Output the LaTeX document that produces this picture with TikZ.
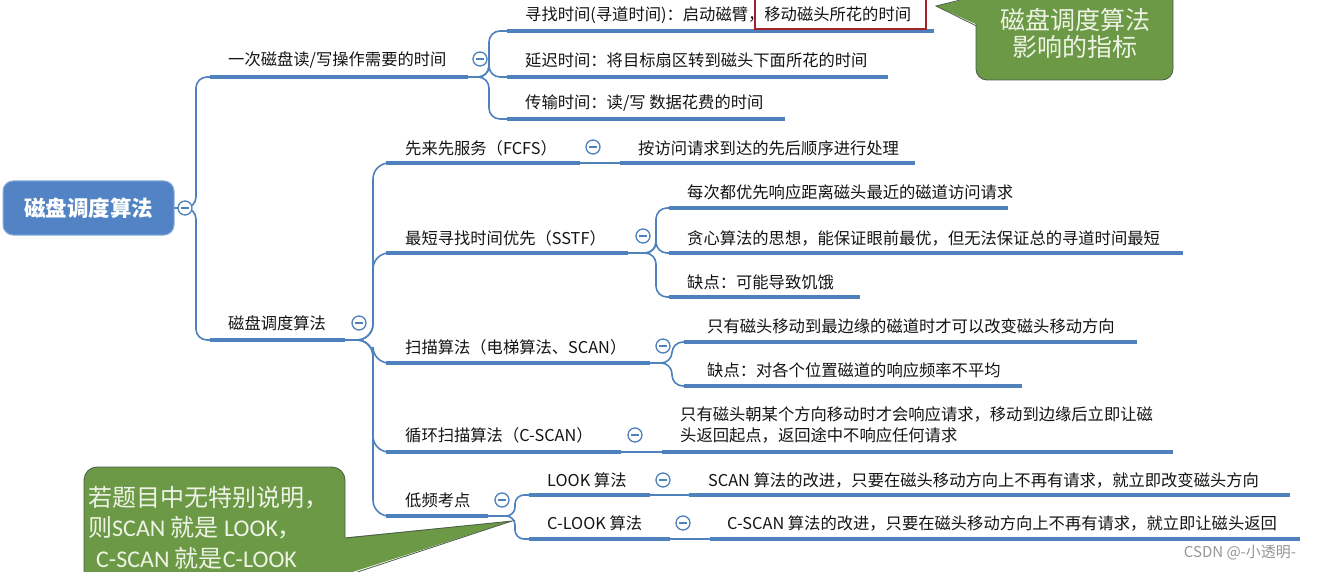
\documentclass[tikz,border=0pt]{standalone}
\usepackage{fontspec}
\setmainfont{Noto Sans CJK SC}
\newfontfamily\calfont{Carlito}
\usetikzlibrary{calc}
\definecolor{mmblue}{RGB}{79,129,189}
\definecolor{rootblue}{RGB}{82,131,196}
\definecolor{rootedge}{RGB}{140,172,215}
\definecolor{gfill}{RGB}{108,153,70}
\definecolor{gline}{RGB}{72,92,70}
\definecolor{redbox}{RGB}{160,35,45}
\definecolor{txtc}{RGB}{20,20,20}
\definecolor{gtext}{RGB}{238,243,230}
\definecolor{wmgray}{RGB}{150,150,150}
\newcommand\tf{\fontsize{16.3}{21}\selectfont}
\begin{document}
\begin{tikzpicture}[x=1pt,y=-1pt,
  uline/.style={line width=3.6pt, draw=mmblue},
  conn/.style={line width=1.6pt, draw=mmblue, rounded corners=11pt},
  coll/.style={circle, draw=mmblue, line width=1.3pt, fill=white, minimum size=14pt, inner sep=0pt,
    path picture={\draw[mmblue,line width=1.3pt] ([xshift=-3.6pt]path picture bounding box.center) -- ([xshift=3.6pt]path picture bounding box.center);}},
  topic/.style={anchor=west, inner sep=0pt, font=\tf, text=txtc},
  rootbox/.style={rounded corners=10pt, fill=rootblue, draw=rootedge, line width=1pt, minimum width=171pt, minimum height=54pt, text=white, font=\fontsize{21.5}{24}\selectfont\bfseries},
  callout/.style={fill=gfill, draw=gline, line width=0.8pt},
  ctext/.style={anchor=west, inner sep=0pt, text=gtext, font=\fontsize{24}{28}\selectfont}
]
\useasboundingbox (0,0) rectangle (1319,572);
\clip (0,0) rectangle (1319,572);
\fill[white] (0,0) rectangle (1319,572);

% ---------- coordinates ----------
\coordinate (Rb) at (196,208);
\coordinate (Aus) at (210,77);  \coordinate (Aue) at (468,77); \coordinate (Ab) at (489,77);
\coordinate (A1s) at (507,31);  \coordinate (A1e) at (934,31);
\coordinate (A2s) at (507,77);  \coordinate (A2e) at (888,77);
\coordinate (A3s) at (507,119); \coordinate (A3e) at (785,119);
\coordinate (Bus) at (210,340); \coordinate (Bue) at (345,340); \coordinate (Bb) at (373,340);
\coordinate (B1s) at (386,163); \coordinate (B1e) at (580,163);
\coordinate (B1as) at (620,163); \coordinate (B1ae) at (915,163);
\coordinate (B2s) at (386,253); \coordinate (B2e) at (628,253); \coordinate (B2b) at (656,253);
\coordinate (B2xs) at (669,208); \coordinate (B2xe) at (1008,208);
\coordinate (B2ys) at (669,253); \coordinate (B2ye) at (1183,253);
\coordinate (B2zs) at (669,297); \coordinate (B2ze) at (860,297);
\coordinate (B3s) at (386,363); \coordinate (B3e) at (650,363); \coordinate (B3b) at (672,363);
\coordinate (B3xs) at (684,342); \coordinate (B3xe) at (1137,342);
\coordinate (B3ys) at (684,386); \coordinate (B3ye) at (1022,386);
\coordinate (B4s) at (386,452); \coordinate (B4e) at (621,452);
\coordinate (B4xs) at (662,452); \coordinate (B4xe) at (1173,452);
\coordinate (B5s) at (386,516); \coordinate (B5e) at (488,516); \coordinate (B5b) at (515,516);
\coordinate (B5xs) at (529,495); \coordinate (B5xe) at (650,495);
\coordinate (B5xas) at (689,495); \coordinate (B5xae) at (1290,495);
\coordinate (B5ys) at (529,539); \coordinate (B5ye) at (670,539);
\coordinate (B5yas) at (710,539); \coordinate (B5yae) at (1300,539);

% ---------- root ----------
\node[rootbox] (root) at (88.5,208) {磁盘调度算法};

% ---------- connectors ----------
\draw[conn] (root.east) -- (Rb) |- (Aus);
\draw[conn] (root.east) -- (Rb) |- (Bus);
\draw[conn] (Aue) -- (Ab) |- (A1s);
\draw[conn] (Aue) -- (Ab) |- (A2s);
\draw[conn] (Aue) -- (Ab) |- (A3s);
\draw[conn,rounded corners=16pt] (Bue) -- (Bb) |- (B1s);
\draw[conn,rounded corners=16pt] (Bue) -- (Bb) |- (B2s);
\draw[conn,rounded corners=16pt] (Bue) -- (Bb) |- (B3s);
\draw[conn,rounded corners=16pt] (Bue) -- (Bb) |- (B4s);
\draw[conn,rounded corners=16pt] (Bue) -- (Bb) |- (B5s);
\draw[conn] (B1e) -- (B1as);
\draw[conn] (B2e) -- (B2b) |- (B2xs);
\draw[conn] (B2e) -- (B2b) |- (B2ys);
\draw[conn] (B2e) -- (B2b) |- (B2zs);
\draw[conn] (B3e) -- (B3b) |- (B3xs);
\draw[conn] (B3e) -- (B3b) |- (B3ys);
\draw[conn] (B4e) -- (B4xs);
\draw[conn,rounded corners=9pt] (B5e) -- (B5b) |- (B5xs);
\draw[conn,rounded corners=9pt] (B5e) -- (B5b) |- (B5ys);
\draw[conn] (B5xe) -- (B5xas);
\draw[conn] (B5ye) -- (B5yas);

% ---------- underlines ----------
\foreach \s/\e in {Aus/Aue,A1s/A1e,A2s/A2e,A3s/A3e,Bus/Bue,B1s/B1e,B1as/B1ae,B2s/B2e,B2xs/B2xe,B2ys/B2ye,B2zs/B2ze,B3s/B3e,B3xs/B3xe,B3ys/B3ye,B4s/B4e,B4xs/B4xe,B5s/B5e,B5xs/B5xe,B5xas/B5xae,B5ys/B5ye,B5yas/B5yae}
  \draw[uline] (\s) -- (\e);

% ---------- collapse circles ----------
\node[coll] (Rc) at (185,208) {};
\node[coll] (Ac) at (480,59) {};
\node[coll] (Bc) at (359,323) {};
\node[coll] (B1c) at (593,147) {};
\node[coll] (B2c) at (643,236) {};
\node[coll] (B3c) at (663,346) {};
\node[coll] (B4c) at (635,435) {};
\node[coll] (B5c) at (502,500) {};
\node[coll] (B5xc) at (663,480) {};
\node[coll] (B5yc) at (683,523) {};

% ---------- texts ----------
\node[topic] (A) at (228,60) {一次磁盘读/写操作需要的时间};
\node[topic] (A1) at (525,15) {寻找时间(寻道时间)：启动磁臂，移动磁头所花的时间};
\node[topic] (A2) at (525,60) {延迟时间：将目标扇区转到磁头下面所花的时间};
\node[topic] (A3) at (525,103) {传输时间：读/写 数据花费的时间};
\node[draw=redbox, line width=1.4pt, minimum width=171pt, minimum height=32pt, inner sep=0pt] (red) at (840.5,13) {};

\node[topic] (B) at (228,323) {磁盘调度算法};
\node[topic] (B1) at (405,148) {先来先服务（FCFS）};
\node[topic] (B1a) at (638,148) {按访问请求到达的先后顺序进行处理};
\node[topic] (B2) at (405,238) {最短寻找时间优先（SSTF）};
\node[topic] (B2x) at (687,192) {每次都优先响应距离磁头最近的磁道访问请求};
\node[topic] (B2y) at (687,238) {贪心算法的思想，能保证眼前最优，但无法保证总的寻道时间最短};
\node[topic] (B2z) at (687,282) {缺点：可能导致饥饿};
\node[topic] (B3) at (405,347) {扫描算法（电梯算法、SCAN）};
\node[topic] (B3x) at (707,326) {只有磁头移动到最边缘的磁道时才可以改变磁头移动方向};
\node[topic] (B3y) at (707,370) {缺点：对各个位置磁道的响应频率不平均};
\node[topic] (B4) at (405,435) {循环扫描算法（C-SCAN）};
\node[topic, align=left] (B4x) at (680,425) {只有磁头朝某个方向移动时才会响应请求，移动到边缘后立即让磁\\头返回起点，返回途中不响应任何请求};
\node[topic] (B5) at (405,500) {低频考点};
\node[topic] (B5x) at (547,480) {LOOK 算法};
\node[topic] (B5xa) at (708,480) {SCAN 算法的改进，只要在磁头移动方向上不再有请求，就立即改变磁头方向};
\node[topic] (B5y) at (547,523) {C-LOOK 算法};
\node[topic] (B5ya) at (727,523) {C-SCAN 算法的改进，只要在磁头移动方向上不再有请求，就立即让磁头返回};

% ---------- callouts ----------
\draw[callout, rounded corners=11pt] (976,-14) rectangle (1173,80);
\fill[gfill] (980,-4) -- (936,6) -- (980,26) -- cycle;
\draw[gline, line width=0.8pt] (976.5,-4) -- (936,6) -- (976.5,26);
\node[anchor=center, inner sep=0pt, text=gtext, font=\fontsize{25}{28}\selectfont] (C1a) at (1075,20) {磁盘调度算法};
\node[anchor=center, inner sep=0pt, text=gtext, font=\fontsize{25}{28}\selectfont] (C1b) at (1075,47) {影响的指标};

\draw[callout, rounded corners=13pt] (84,467) rectangle (345,610);
\fill[gfill] (340,538) -- (512,521) -- (340,576) -- cycle;
\draw[gline, line width=0.8pt] (345.4,538) -- (512,521) -- (345.4,576);
\node[ctext] (C2a) at (88,498) {若题目中无特别说明，};
\node[ctext] (C2b) at (88,528) {则{\calfont SCAN} 就是 {\calfont LOOK}，};
\node[ctext] (C2c) at (96,558) {{\calfont C-SCAN} 就是{\calfont C-LOOK}};

% ---------- watermark ----------
\node[anchor=center, inner sep=0pt, text=wmgray, font=\fontsize{15}{17}\selectfont] (wm) at (1240,553) {CSDN @-小透明-};
\end{tikzpicture}
\end{document}
